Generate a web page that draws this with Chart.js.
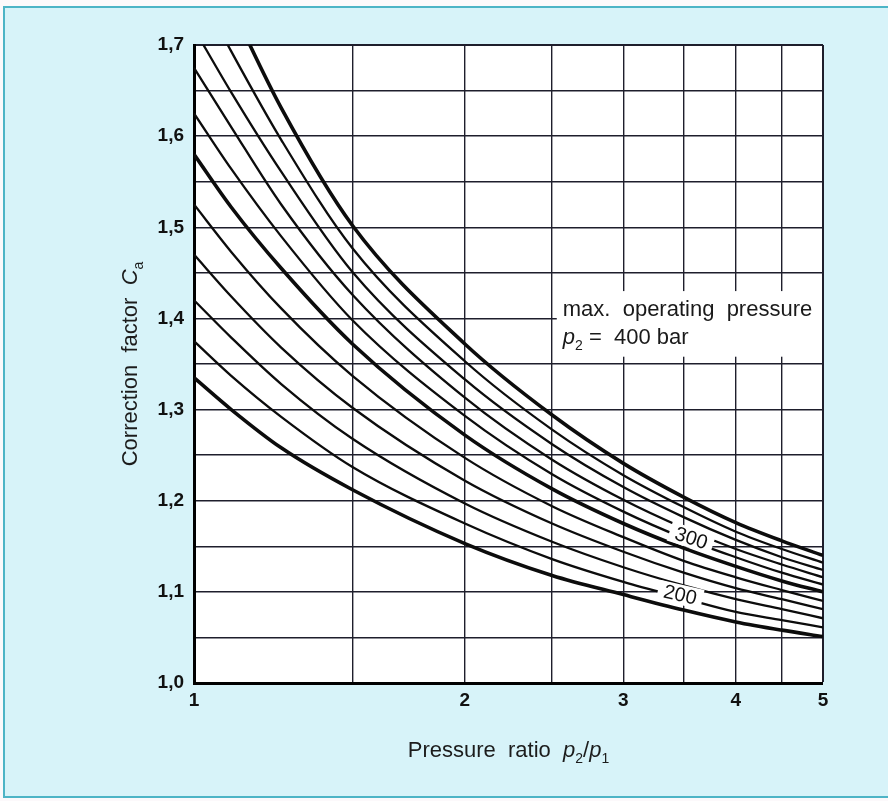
<!DOCTYPE html>
<html>
<head>
<meta charset="utf-8">
<title>Correction factor C_a</title>
<script src="https://cdn.jsdelivr.net/npm/chart.js@4.4.1/dist/chart.umd.min.js"></script>
<style>
    html, body { margin: 0; padding: 0; background: #fff; }
    #wrap { width: 888px; height: 801px; }
</style>
</head>
<body>
<div id="wrap"><canvas id="caChart" width="888" height="801"></canvas></div>
<script>
// pressure ratio p2/p1 where each curve was read
const pressureRatios = [1, 1.1, 1.25, 1.5, 2, 2.5, 3, 3.5, 4, 4.5, 5];

// correction factor Ca, one array per curve (bottom to top)
const curve200 = [1.335, 1.300, 1.258, 1.212, 1.153, 1.118, 1.097, 1.080, 1.067, 1.058, 1.051];
const curve220 = [1.375, 1.337, 1.292, 1.237, 1.175, 1.136, 1.111, 1.093, 1.078, 1.069, 1.061];
const curve240 = [1.420, 1.379, 1.328, 1.268, 1.197, 1.155, 1.127, 1.107, 1.092, 1.081, 1.071];
const curve260 = [1.470, 1.424, 1.368, 1.302, 1.222, 1.175, 1.144, 1.121, 1.104, 1.092, 1.081];
const curve280 = [1.525, 1.473, 1.411, 1.337, 1.247, 1.194, 1.160, 1.134, 1.116, 1.102, 1.090];
const curve300 = [1.580, 1.522, 1.455, 1.372, 1.272, 1.213, 1.175, 1.148, 1.128, 1.112, 1.100];
const curve320 = [1.625, 1.564, 1.490, 1.398, 1.293, 1.229, 1.188, 1.159, 1.138, 1.121, 1.108];
const curve340 = [1.675, 1.610, 1.525, 1.426, 1.313, 1.245, 1.201, 1.170, 1.147, 1.130, 1.116];
const curve360 = [1.718, 1.648, 1.561, 1.451, 1.333, 1.262, 1.215, 1.182, 1.157, 1.138, 1.124];
const curve380 = [1.770, 1.693, 1.596, 1.477, 1.353, 1.278, 1.228, 1.193, 1.166, 1.147, 1.132];
const curve400 = [1.830, 1.743, 1.631, 1.502, 1.372, 1.294, 1.241, 1.204, 1.176, 1.156, 1.140];

const curves = [curve200, curve220, curve240, curve260, curve280, curve300,
    curve320, curve340, curve360, curve380, curve400];
const curveNames = ['200', '220', '240', '260', '280', '300', '320', '340', '360', '380', '400'];
const heavyCurves = ['200', '300', '400'];

// axes
const xGridValues = [1, 1.5, 2, 2.5, 3, 3.5, 4, 4.5, 5];
const xLabelValues = [1, 2, 3, 4, 5];
const xTickLabels = ['1', '2', '3', '4', '5'];
const yGridValues = [1, 1.05, 1.1, 1.15, 1.2, 1.25, 1.3, 1.35, 1.4, 1.45, 1.5, 1.55, 1.6, 1.65, 1.7];
const yTickLabels = ['1,0', '1,1', '1,2', '1,3', '1,4', '1,5', '1,6', '1,7'];

const FONT = "'Liberation Sans', Arial, Helvetica, sans-serif";
const INK = '#111';
const GRID = '#1e1e2c';

// text pieces: plain, italic, subscript
function drawRich(ctx, parts, x, y, align) {
    const size = 22;
    const widthOf = (p) => {
        ctx.font = p.sub ? `14px ${FONT}` : `${p.italic ? 'italic ' : ''}${size}px ${FONT}`;
        return ctx.measureText(p.t).width;
    };
    const total = parts.reduce((s, p) => s + widthOf(p), 0);
    let cx = align === 'center' ? x - total / 2 : x;
    ctx.textAlign = 'left';
    ctx.textBaseline = 'alphabetic';
    parts.forEach(p => {
        const w = widthOf(p);
        ctx.fillText(p.t, cx, p.sub ? y + 6 : y);
        cx += w;
    });
}

const panelBackground = {
    id: 'panelBackground',
    beforeDraw(chart) {
        const { ctx, chartArea: a } = chart;
        ctx.save();
        ctx.fillStyle = '#fcf9fb';
        ctx.fillRect(0, 0, chart.width, chart.height);
        ctx.fillStyle = '#d7f3f9';
        ctx.fillRect(4, 7, chart.width, 790);
        ctx.strokeStyle = '#4db4c6';
        ctx.lineWidth = 2;
        ctx.strokeRect(4, 7, chart.width + 10, 790);
        ctx.fillStyle = '#fff';
        ctx.fillRect(a.left, a.top, a.right - a.left, a.bottom - a.top);
        ctx.restore();
    }
};

// "max. operating pressure" note, on a white patch that hides the grid
const pressureNote = {
    id: 'pressureNote',
    beforeDatasetsDraw(chart) {
        const { ctx, chartArea: a, scales: { x, y } } = chart;
        const left = x.getPixelForValue(2.53);
        const right = a.right - 1;
        const top = y.getPixelForValue(1.43);
        const bottom = y.getPixelForValue(1.358);
        ctx.save();
        ctx.fillStyle = '#fff';
        ctx.fillRect(left, top, right - left, bottom - top);
        ctx.fillStyle = '#1a1a1a';
        drawRich(ctx, [{ t: 'max.  operating  pressure' }], left + 6, top + 25, 'left');
        drawRich(ctx, [{ t: 'p', italic: true }, { t: '2', sub: true }, { t: ' =  400 bar' }],
            left + 6, top + 53, 'left');
        ctx.restore();
    }
};

const curveTags = [
    { text: '300', x: 3.57, y: 1.159, angle: 18 },
    { text: '200', x: 3.47, y: 1.097, angle: 13 }
];

const curveLabels = {
    id: 'curveLabels',
    afterDatasetsDraw(chart) {
        const { ctx, scales: { x, y } } = chart;
        ctx.save();
        ctx.font = `20px ${FONT}`;
        curveTags.forEach(tag => {
            const w = ctx.measureText(tag.text).width;
            ctx.save();
            ctx.translate(x.getPixelForValue(tag.x), y.getPixelForValue(tag.y));
            ctx.rotate(tag.angle * Math.PI / 180);
            ctx.fillStyle = '#fff';
            ctx.fillRect(-w / 2 - 6, -10, w + 12, 20);
            ctx.fillStyle = INK;
            ctx.textAlign = 'center';
            ctx.textBaseline = 'middle';
            ctx.fillText(tag.text, 0, 1);
            ctx.restore();
        });
        ctx.restore();
    }
};

const axisTitles = {
    id: 'axisTitles',
    afterDraw(chart) {
        const { ctx, chartArea: a } = chart;
        ctx.save();
        ctx.fillStyle = '#1c1c1c';
        drawRich(ctx, [
            { t: 'Pressure  ratio  ' },
            { t: 'p', italic: true }, { t: '2', sub: true },
            { t: '/' },
            { t: 'p', italic: true }, { t: '1', sub: true }
        ], (a.left + a.right) / 2, 757, 'center');

        ctx.translate(137, (a.top + a.bottom) / 2);
        ctx.rotate(-Math.PI / 2);
        drawRich(ctx, [
            { t: 'Correction  factor  ' },
            { t: 'C', italic: true }, { t: 'a', sub: true }
        ], 0, 0, 'center');
        ctx.restore();
    }
};

const datasets = curves.map((values, i) => ({
    label: curveNames[i],
    data: pressureRatios.map((r, j) => ({ x: r, y: values[j] })),
    borderColor: '#0c0c0c',
    borderWidth: heavyCurves.includes(curveNames[i]) ? 3.6 : 2.3,
    pointRadius: 0,
    fill: false,
    cubicInterpolationMode: 'monotone'
}));

const ctx = document.getElementById('caChart').getContext('2d');
new Chart(ctx, {
    type: 'line',
    data: { datasets },
    options: {
        responsive: false,
        animation: false,
        devicePixelRatio: 1,
        layout: { padding: { left: 0, top: 45, right: 65, bottom: 78 } },
        plugins: {
            legend: { display: false },
            tooltip: { enabled: false }
        },
        scales: {
            x: {
                type: 'logarithmic',
                min: 1,
                max: 5,
                afterBuildTicks: (scale) => { scale.ticks = xGridValues.map(v => ({ value: v })); },
                afterFit: (scale) => { scale.height = 40; },
                ticks: {
                    autoSkip: false,
                    maxRotation: 0,
                    padding: 6,
                    color: INK,
                    font: { family: FONT, size: 19, weight: 'bold' },
                    callback: (value) => {
                        const idx = xLabelValues.indexOf(value);
                        return idx >= 0 ? xTickLabels[idx] : '';
                    }
                },
                grid: {
                    color: GRID,
                    drawTicks: false,
                    lineWidth: (c) => c.tick && c.tick.value === 1 ? 0 : (c.tick && c.tick.value === 5 ? 2 : 1.4)
                },
                border: { display: true, color: '#000', width: 3 }
            },
            y: {
                type: 'linear',
                min: 1,
                max: 1.7,
                afterBuildTicks: (scale) => { scale.ticks = yGridValues.map(v => ({ value: v })); },
                afterFit: (scale) => { scale.width = 194; },
                ticks: {
                    autoSkip: false,
                    padding: 10,
                    color: INK,
                    font: { family: FONT, size: 19, weight: 'bold' },
                    callback: (value, index) => index % 2 === 0 ? yTickLabels[index / 2] : ''
                },
                grid: {
                    color: GRID,
                    drawTicks: false,
                    lineWidth: (c) => c.index === 0 ? 0 : (c.index === yGridValues.length - 1 ? 2 : 1.4)
                },
                border: { display: true, color: '#000', width: 3 }
            }
        }
    },
    plugins: [panelBackground, pressureNote, curveLabels, axisTitles]
});
</script>
</body>
</html>
